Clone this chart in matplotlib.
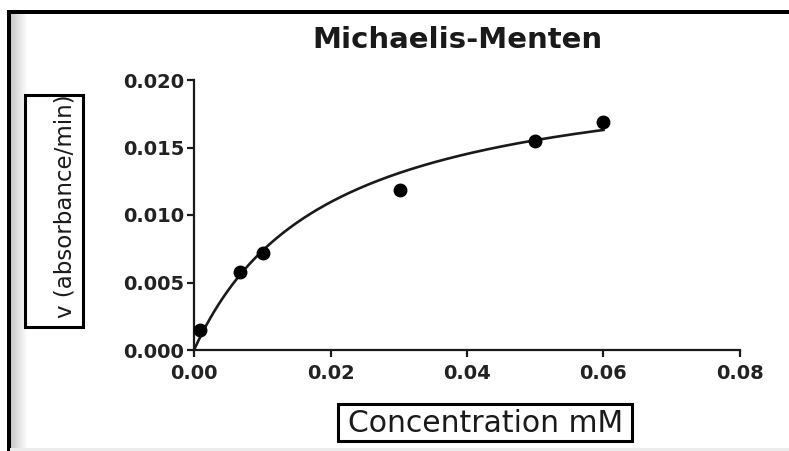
import numpy as np
import matplotlib
matplotlib.use("Agg")
import matplotlib.pyplot as plt
from matplotlib.patches import Rectangle

# ---- data ----
concentration = [0.0009, 0.0067, 0.0101, 0.0302, 0.0500, 0.0600]   # mM
velocity = [0.00148, 0.00578, 0.00720, 0.01185, 0.01545, 0.01690]   # absorbance/min

# Michaelis-Menten fit parameters
vmax = 0.02157
km = 0.0194

x_ticks = [0.00, 0.02, 0.04, 0.06, 0.08]
x_tick_labels = ["0.00", "0.02", "0.04", "0.06", "0.08"]
y_ticks = [0.000, 0.005, 0.010, 0.015, 0.020]
y_tick_labels = ["0.000", "0.005", "0.010", "0.015", "0.020"]

title = "Michaelis-Menten"
x_label = "Concentration mM"
y_label = "v (absorbance/min)"

W, H = 789, 451
fig = plt.figure(figsize=(W / 100, H / 100), dpi=100)
fig.patch.set_facecolor("white")


def px_rect(x0, y0, x1, y1, **kw):
    """Rectangle given in pixel coords (origin top-left)."""
    r = Rectangle((x0 / W, 1 - y1 / H), (x1 - x0) / W, (y1 - y0) / H,
                  transform=fig.transFigure, **kw)
    fig.patches.append(r)
    return r


# decorative frame (top and left black border, shadow)
for i in range(18):
    g = 0.78 + 0.22 * (i / 17)
    px_rect(10 + i, 13, 11.2 + i, H, facecolor=(g, g, g), edgecolor="none", zorder=0)
px_rect(7, 10, 10.5, H, facecolor="black", edgecolor="none", zorder=1)
px_rect(7, 10, W + 5, 13.5, facecolor="black", edgecolor="none", zorder=1)
px_rect(10, H - 3, W + 5, H, facecolor="#ececec", edgecolor="none", zorder=1)

ax_left, ax_right = 194 / W, 740 / W
ax_bottom, ax_top = 1 - 350 / H, 1 - 80 / H
ax = fig.add_axes([ax_left, ax_bottom, ax_right - ax_left, ax_top - ax_bottom])
ax.set_facecolor("none")

x_fit = np.linspace(0, max(concentration), 300)
y_fit = vmax * x_fit / (km + x_fit)
ax.plot(x_fit, y_fit, color="#1a1a1a", lw=1.9, zorder=2, clip_on=False)
ax.plot(concentration, velocity, "o", color="black", ms=9, zorder=3, clip_on=False)

ax.set_xlim(0, 0.08)
ax.set_ylim(0, 0.020)
ax.set_xticks(x_ticks)
ax.set_xticklabels(x_tick_labels)
ax.set_yticks(y_ticks)
ax.set_yticklabels(y_tick_labels)

for s in ["top", "right"]:
    ax.spines[s].set_visible(False)
for s in ["left", "bottom"]:
    ax.spines[s].set_linewidth(1.6)
    ax.spines[s].set_color("#1a1a1a")

ax.tick_params(axis="both", direction="out", length=5, width=1.6, color="#1a1a1a",
               labelcolor="#222222")
ax.tick_params(axis="x", pad=5)
ax.tick_params(axis="y", pad=2)
for lab in ax.get_xticklabels() + ax.get_yticklabels():
    lab.set_fontfamily("DejaVu Sans")
    lab.set_fontweight("bold")
    lab.set_fontsize(14)

fig.text(457.5 / W, 1 - 48 / H, title, ha="center", va="baseline",
         family="DejaVu Sans", weight="bold", size=21, color="#1a1a1a")

# x label with its box
px_rect(338, 404, 632, 441, facecolor="white", edgecolor="black", lw=2.2, zorder=2)
fig.text(485.5 / W, 1 - 432 / H, x_label, ha="center", va="baseline",
         family="DejaVu Sans", size=21.5, color="#1a1a1a", zorder=3)

# y label with its box
px_rect(25, 95, 83, 327, facecolor="white", edgecolor="black", lw=2.2, zorder=2)
fig.text(65 / W, 1 - 206 / H, y_label, ha="center", va="center", rotation=90,
         family="DejaVu Sans", size=16.5, color="#1a1a1a", zorder=3)

fig.savefig("out.png", dpi=100)
